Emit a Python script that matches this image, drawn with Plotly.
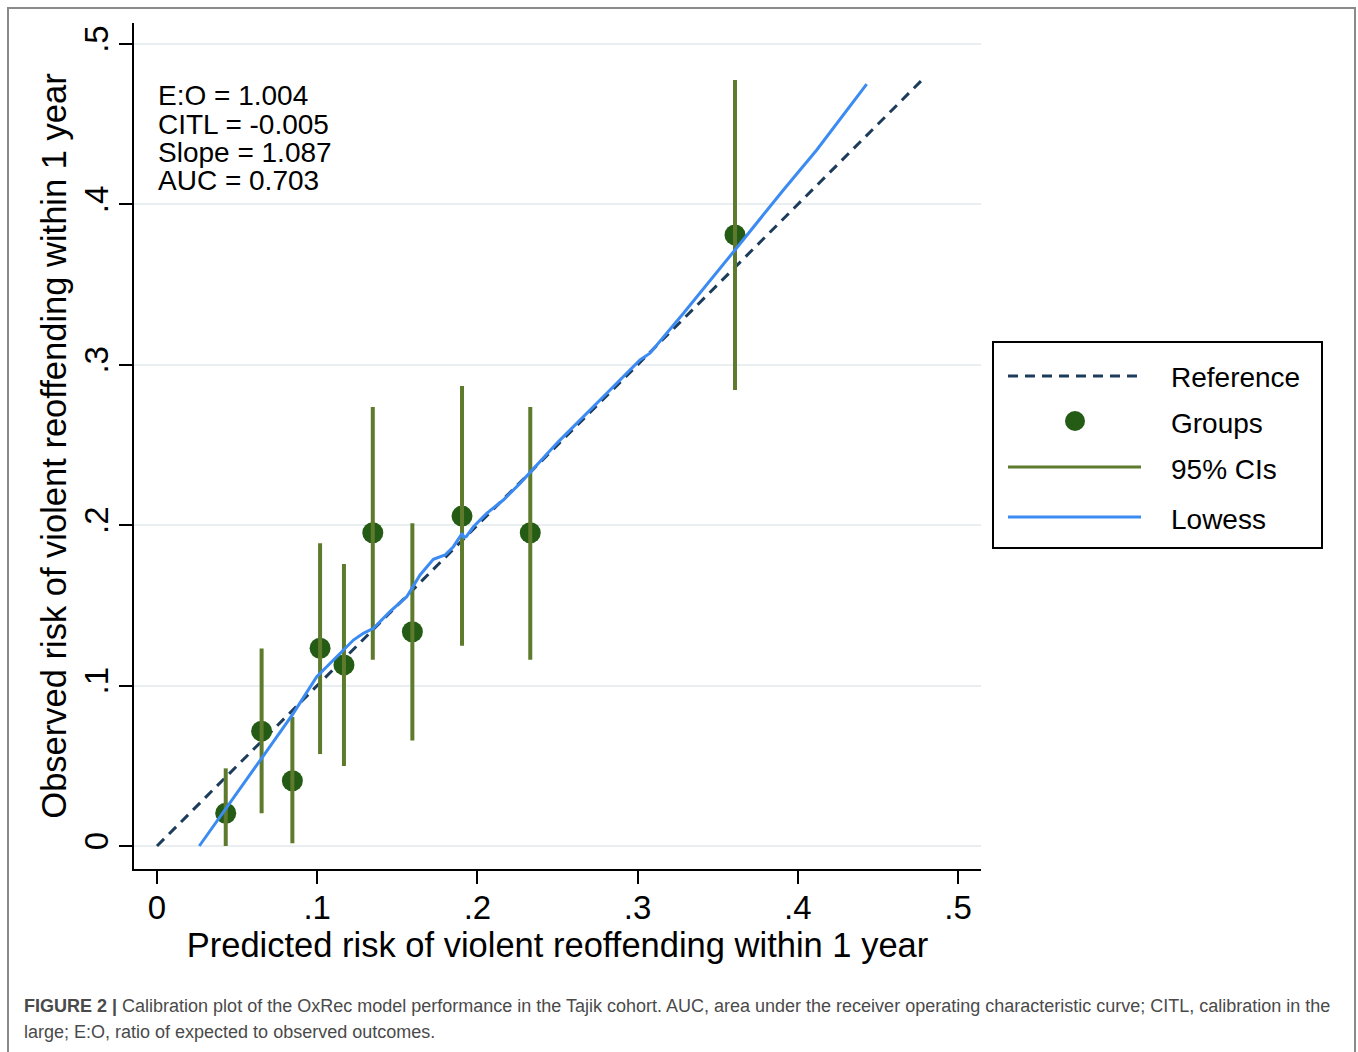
import plotly.graph_objects as go

# ---------------- data ----------------
group_pred = [0.0429, 0.0653, 0.0845, 0.1018, 0.1167, 0.1347, 0.1594, 0.1904, 0.2330, 0.3608]
group_obs = [0.0204, 0.0716, 0.0407, 0.1233, 0.1129, 0.1953, 0.1336, 0.2057, 0.1953, 0.3810]
ci_low = [0.0000, 0.0204, 0.0017, 0.0574, 0.0499, 0.1161, 0.0657, 0.1249, 0.1161, 0.2843]
ci_high = [0.0484, 0.1232, 0.0805, 0.1887, 0.1758, 0.2737, 0.2012, 0.2868, 0.2737, 0.4776]

ref_x = [0.0, 0.478]
ref_y = [0.0, 0.478]

lowess_x = [0.0264, 0.0429, 0.0653, 0.0851, 0.0997, 0.1122, 0.1226, 0.1288, 0.1351, 0.1454,
            0.1559, 0.1642, 0.1725, 0.1798, 0.1850, 0.1905, 0.1915, 0.1930, 0.1975, 0.2058,
            0.2162, 0.2266, 0.2500, 0.2800, 0.3015, 0.3077, 0.3285, 0.3608, 0.3910, 0.4118, 0.4430]
lowess_y = [0.0000, 0.0235, 0.0547, 0.0827, 0.1056, 0.1180, 0.1284, 0.1326, 0.1357, 0.1461,
            0.1554, 0.1690, 0.1787, 0.1814, 0.1866, 0.1950, 0.1925, 0.1928, 0.1990, 0.2074,
            0.2157, 0.2261, 0.2515, 0.2815, 0.3030, 0.3072, 0.3320, 0.3716, 0.4090, 0.4339, 0.4750]

tick_vals = [0, 0.1, 0.2, 0.3, 0.4, 0.5]
tick_text = ["0", ".1", ".2", ".3", ".4", ".5"]

stats_text = ["E:O = 1.004", "CITL = -0.005", "Slope = 1.087", "AUC = 0.703"]
legend_names = ["Reference", "Groups", "95% CIs", "Lowess"]

x_title = "Predicted risk of violent reoffending within 1 year"
y_title = "Observed risk of violent reoffending within 1 year"
caption_lines = [
    "<b>FIGURE 2 |</b> Calibration plot of the OxRec model performance in the Tajik cohort. AUC, area under the receiver operating characteristic curve; CITL, calibration in the",
    "large; E:O, ratio of expected to observed outcomes.",
]

# ---------------- style ----------------
FONT = "Liberation Sans, Arial, Helvetica, sans-serif"
C_REF = "#1d3c5c"
C_DOT = "#255c15"
C_CI = "#5e7a2c"
C_LOW = "#3b8bf2"
C_GRID = "#e9eef1"

FIG_W, FIG_H = 1358, 1052
L, R, T, B = 134, 981, 23, 869
PW, PH = R - L, B - T


def px(x):
    return (x - L) / PW


def py(y):
    return (B - y) / PH


# CI segments built from the arrays
ci_x, ci_y = [], []
for xv, lo, hi in zip(group_pred, ci_low, ci_high):
    ci_x += [xv, xv, None]
    ci_y += [lo, hi, None]

fig = go.Figure()
fig.add_trace(go.Scatter(x=ref_x, y=ref_y, mode="lines", name=legend_names[0],
                         line=dict(color=C_REF, width=3, dash="10px,7px"), showlegend=False))
fig.add_trace(go.Scatter(x=group_pred, y=group_obs, mode="markers", name=legend_names[1],
                         marker=dict(color=C_DOT, size=21, line=dict(width=0)), showlegend=False))
fig.add_trace(go.Scatter(x=ci_x, y=ci_y, mode="lines", name=legend_names[2],
                         line=dict(color=C_CI, width=4), showlegend=False))
fig.add_trace(go.Scatter(x=lowess_x, y=lowess_y, mode="lines", name=legend_names[3],
                         line=dict(color=C_LOW, width=3), showlegend=False))

fig.update_xaxes(range=[(L - 157) / 1602, (R - 157) / 1602], tickvals=tick_vals, ticktext=tick_text,
                 ticks="outside", ticklen=13, tickwidth=2, tickcolor="black", ticklabelstandoff=-5,
                 showline=True, linecolor="black", linewidth=2, showgrid=False, zeroline=False,
                 tickfont=dict(family=FONT, size=33, color="black"),
                 title=dict(text=x_title, font=dict(family=FONT, size=34.5, color="black"), standoff=3))
fig.update_yaxes(range=[(846 - B) / 1604, (846 - T) / 1604], tickvals=tick_vals, ticktext=tick_text,
                 ticks="outside", ticklen=13, tickwidth=2, tickcolor="black", tickangle=-90,
                 ticklabelstandoff=-2,
                 showline=True, linecolor="black", linewidth=2, showgrid=True, gridcolor=C_GRID,
                 gridwidth=2, zeroline=False,
                 tickfont=dict(family=FONT, size=33, color="black"),
                 title=dict(text=y_title, font=dict(family=FONT, size=34.5, color="black"), standoff=1))

shapes = []
annotations = []

# outer frame
shapes.append(dict(type="rect", xref="paper", yref="paper", x0=px(8), x1=px(1355), y0=py(8), y1=py(1060),
                   line=dict(color="#8a8a8a", width=2), layer="below"))

# stats text
for i, s in enumerate(stats_text):
    annotations.append(dict(text=s, xref="paper", yref="paper", x=px(156), y=py(96 + i * 28.3),
                            xanchor="left", yanchor="middle", showarrow=False,
                            font=dict(family=FONT, size=28, color="black")))

# legend box (drawn manually to match long symbol lines)
shapes.append(dict(type="rect", xref="paper", yref="paper", x0=px(993), x1=px(1322), y0=py(342), y1=py(548),
                   line=dict(color="black", width=2), fillcolor="white"))
leg_y = [376, 421, 467, 517]
shapes.append(dict(type="line", xref="paper", yref="paper", x0=px(1008), x1=px(1141), y0=py(leg_y[0]), y1=py(leg_y[0]),
                   line=dict(color=C_REF, width=3, dash="10px,7px")))
shapes.append(dict(type="circle", xref="paper", yref="paper", xsizemode="pixel", ysizemode="pixel",
                   xanchor=px(1075), yanchor=py(leg_y[1]), x0=-10, x1=10, y0=-10, y1=10,
                   fillcolor=C_DOT, line=dict(width=0)))
shapes.append(dict(type="line", xref="paper", yref="paper", x0=px(1008), x1=px(1141), y0=py(leg_y[2]), y1=py(leg_y[2]),
                   line=dict(color=C_CI, width=3)))
shapes.append(dict(type="line", xref="paper", yref="paper", x0=px(1008), x1=px(1141), y0=py(leg_y[3]), y1=py(leg_y[3]),
                   line=dict(color=C_LOW, width=3)))
for name, yy in zip(legend_names, [377, 423, 469, 519]):
    annotations.append(dict(text=name, xref="paper", yref="paper", x=px(1169), y=py(yy),
                            xanchor="left", yanchor="middle", showarrow=False,
                            font=dict(family=FONT, size=28, color="black")))

# caption
for line, yy in zip(caption_lines, [1006, 1032]):
    annotations.append(dict(text=line, xref="paper", yref="paper", x=px(22), y=py(yy),
                            xanchor="left", yanchor="middle", showarrow=False,
                            font=dict(family=FONT, size=18, color="#4a4a4a")))

fig.update_layout(width=FIG_W, height=FIG_H, margin=dict(l=L, r=FIG_W - R, t=T, b=FIG_H - B),
                  paper_bgcolor="white", plot_bgcolor="white", showlegend=False,
                  shapes=shapes, annotations=annotations,
                  font=dict(family=FONT, color="black"))

fig.write_html("out.html", config={"displayModeBar": False},
               post_script="document.body.style.margin='0';")
